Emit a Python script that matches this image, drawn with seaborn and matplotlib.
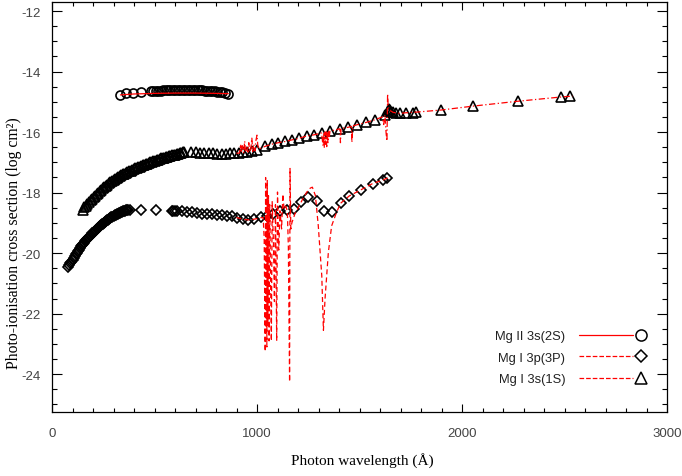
import numpy as np
import matplotlib
matplotlib.use("Agg")
import matplotlib.pyplot as plt
import seaborn as sns
from matplotlib.lines import Line2D
from matplotlib.legend_handler import HandlerBase
from matplotlib.ticker import MultipleLocator

# ---------------- data ----------------
# Mg II 3s(2S): circles + solid red line
mg2_mark_x = [334, 363, 395, 432, 482, 494, 506, 518, 530, 542, 554, 566, 578, 590,
              602, 614, 626, 638, 650, 662, 674, 686, 698, 710, 722, 734, 746, 758,
              770, 782, 794, 806, 818, 830, 845, 860]
mg2_mark_y = [-14.77, -14.72, -14.70, -14.66, -14.65, -14.64, -14.64, -14.63, -14.63,
              -14.62, -14.62, -14.62, -14.61, -14.61, -14.61, -14.61, -14.61, -14.61,
              -14.61, -14.61, -14.61, -14.62, -14.62, -14.62, -14.62, -14.62, -14.63,
              -14.63, -14.64, -14.64, -14.65, -14.66, -14.67, -14.68, -14.70, -14.73]
mg2_line_x = [334, 400, 500, 600, 700, 800, 860]
mg2_line_y = [-14.77, -14.74, -14.72, -14.71, -14.71, -14.72, -14.73]

# upper series: triangles + dash-dot red line
up_mark_x = [150, 158, 165, 173, 180, 188, 195, 203, 210, 218,
             225, 233, 240, 248, 255, 263, 270, 278, 285, 293,
             300, 308, 315, 323, 330, 338, 345, 353, 360, 368,
             375, 383, 390, 398, 405, 413, 420, 428, 435, 443,
             450, 458, 465, 473, 480, 488, 495, 503, 510, 518,
             525, 533, 540, 548, 555, 563, 570, 578, 585, 593,
             600, 608, 615, 623, 630, 638, 645,
             680, 701, 722, 743, 764, 785, 806, 827, 848, 869, 890, 911, 932, 953, 975,
             1000, 1039, 1072, 1104, 1137, 1169, 1207, 1242, 1278, 1315, 1356, 1405,
             1445, 1486, 1532, 1576, 1624, 1638, 1645, 1650, 1655, 1665, 1680, 1698,
             1727, 1763, 1776, 1898, 2055, 2272, 2482, 2527]
up_mark_y = [-18.56, -18.49, -18.43, -18.37, -18.32, -18.26, -18.20, -18.15, -18.10, -18.05,
             -18.00, -17.95, -17.91, -17.86, -17.82, -17.78, -17.74, -17.69, -17.65, -17.61,
             -17.58, -17.55, -17.52, -17.49, -17.46, -17.43, -17.40, -17.37, -17.34, -17.31,
             -17.29, -17.27, -17.25, -17.22, -17.20, -17.18, -17.16, -17.14, -17.12, -17.10,
             -17.08, -17.06, -17.04, -17.02, -17.00, -16.98, -16.97, -16.95, -16.93, -16.91,
             -16.89, -16.87, -16.86, -16.84, -16.83, -16.81, -16.80, -16.78, -16.77, -16.75,
             -16.74, -16.72, -16.71, -16.70, -16.69, -16.67, -16.66,
             -16.66, -16.67, -16.68, -16.69, -16.70, -16.70, -16.71, -16.71, -16.71,
             -16.70, -16.70, -16.69, -16.67, -16.65, -16.63,
             -16.58, -16.47, -16.40, -16.35, -16.31, -16.26, -16.20, -16.13, -16.09,
             -16.03, -15.97, -15.89, -15.84, -15.76, -15.68, -15.59, -15.44, -15.30,
             -15.24, -15.28, -15.32, -15.35, -15.37, -15.38, -15.36, -15.36, -15.34,
             -15.27, -15.14, -14.98, -14.84, -14.82]
up_line_x = [900, 915, 920, 924, 928, 935, 940, 944, 950, 956, 960, 964, 970, 975, 979,
             984, 990, 994, 1000, 1004, 1010, 1040, 1072, 1104, 1137, 1169, 1207, 1242,
             1278, 1315, 1322, 1325, 1328, 1331, 1334, 1337, 1340, 1343, 1346, 1349,
             1352, 1356, 1380, 1404, 1407, 1410, 1445, 1460, 1463, 1466, 1486, 1532,
             1576, 1610, 1618, 1624, 1630, 1634, 1637, 1640, 1645, 1652, 1665, 1698,
             1727, 1776, 1898, 2055, 2272, 2482, 2540]
up_line_y = [-16.70, -16.69, -16.40, -16.68, -16.45, -16.68, -16.30, -16.67, -16.50,
             -16.66, -16.35, -16.65, -16.55, -16.20, -16.64, -16.40, -16.62, -16.30,
             -16.10, -16.45, -16.56, -16.47, -16.40, -16.35, -16.31, -16.26, -16.20,
             -16.13, -16.09, -16.03, -16.45, -16.02, -16.50, -16.00, -16.40, -15.99,
             -16.48, -15.98, -16.35, -15.98, -16.20, -15.97, -15.93, -15.89, -16.35,
             -15.88, -15.84, -15.81, -16.34, -15.80, -15.76, -15.68, -15.59, -15.50,
             -15.75, -15.44, -16.05, -16.29, -14.74, -15.20, -15.24, -15.30, -15.35,
             -15.38, -15.36, -15.34, -15.27, -15.14, -14.98, -14.84, -14.81]

# lower series: diamonds + dashed red line
lo_mark_x = [80, 85, 90, 95, 100, 105, 110, 115, 120, 125,
             130, 135, 140, 145, 150, 155, 160, 165, 170, 175,
             180, 185, 190, 195, 200, 205, 210, 215, 220, 225,
             230, 235, 240, 245, 250, 255, 260, 265, 270, 275,
             280, 285, 290, 295, 300, 305, 310, 315, 320, 325,
             330, 335, 340, 345, 350, 355, 360, 365, 370,
             380, 432, 506, 586, 592, 598, 608, 633, 657, 681, 706, 730, 755, 779, 803,
             828, 852, 877, 901, 930, 958, 985, 1018, 1048, 1080, 1112, 1148, 1180,
             1215, 1250, 1291, 1328, 1367, 1408, 1450, 1506, 1564, 1616, 1633]
lo_mark_y = [-20.47, -20.40, -20.34, -20.28, -20.22, -20.16, -20.10, -20.04, -19.98, -19.93,
             -19.88, -19.83, -19.78, -19.73, -19.69, -19.65, -19.61, -19.57, -19.53, -19.49,
             -19.46, -19.42, -19.39, -19.35, -19.32, -19.29, -19.26, -19.23, -19.20, -19.17,
             -19.14, -19.11, -19.08, -19.05, -19.03, -19.00, -18.97, -18.94, -18.92, -18.89,
             -18.87, -18.84, -18.82, -18.79, -18.77, -18.75, -18.73, -18.71, -18.69, -18.67,
             -18.66, -18.64, -18.63, -18.62, -18.61, -18.60, -18.59, -18.58, -18.58,
             -18.58, -18.58, -18.56, -18.60, -18.60, -18.60,
             -18.61, -18.62, -18.63, -18.65, -18.67, -18.69, -18.70, -18.72, -18.73,
             -18.75, -18.76, -18.78, -18.83, -18.88, -18.89, -18.87, -18.82, -18.77,
             -18.71, -18.62, -18.57, -18.55, -18.30, -18.16, -18.27, -18.60, -18.65,
             -18.35, -18.11, -17.91, -17.70, -17.58, -17.52]
lo_line_x = [900, 930, 958, 985, 1018, 1030, 1035, 1038, 1040, 1042, 1044, 1046, 1048,
             1050, 1053, 1056, 1059, 1062, 1066, 1070, 1074, 1080, 1085, 1090, 1096,
             1100, 1106, 1112, 1120, 1126, 1132, 1140, 1148, 1153, 1156, 1159, 1161,
             1165, 1170, 1185, 1201, 1220, 1242, 1260, 1270, 1285, 1299, 1316, 1324,
             1332, 1348, 1364, 1388, 1408, 1450, 1506, 1564, 1616, 1640]
lo_line_y = [-18.82, -18.88, -18.90, -18.88, -18.83, -18.82, -19.50, -21.80, -23.25,
             -17.50, -22.60, -17.90, -23.10, -17.60, -22.40, -18.10, -22.90, -18.40,
             -20.80, -22.90, -18.30, -19.60, -21.60, -18.40, -22.90, -17.98, -19.90,
             -18.60, -19.20, -18.05, -18.55, -18.45, -18.60, -19.80, -22.10, -24.25,
             -17.20, -19.20, -19.00, -18.70, -18.50, -18.25, -17.99, -17.85, -17.82,
             -18.10, -19.10, -20.75, -22.55, -21.50, -19.98, -19.10, -18.65, -18.35,
             -18.11, -17.91, -17.70, -17.58, -17.50]

legend_labels = ["Mg II 3s(2S)", "Mg I 3p(3P)", "Mg I 3s(1S)"]

# ---------------- style ----------------
sns.set_style("ticks")
plt.rcParams['font.family'] = ['Liberation Sans', 'DejaVu Sans']
plt.rcParams['axes.unicode_minus'] = False

fig = plt.figure(figsize=(6.82, 4.77), dpi=100)
ax = fig.add_axes([52 / 682, 64 / 477, 615 / 682, 410 / 477])

mk_kw = dict(linestyle='none', markerfacecolor='none', markeredgecolor='black',
             markeredgewidth=1.2, color='black', estimator=None, sort=False)
sns.lineplot(x=mg2_mark_x, y=mg2_mark_y, marker='o', markersize=6.5, ax=ax, **mk_kw)
sns.lineplot(x=up_mark_x, y=up_mark_y, marker='^', markersize=7, ax=ax, **mk_kw)
sns.lineplot(x=lo_mark_x, y=lo_mark_y, marker='D', markersize=5.3, ax=ax, **mk_kw)

ln_kw = dict(color='red', linewidth=0.9, estimator=None, sort=False)
sns.lineplot(x=mg2_line_x, y=mg2_line_y, linestyle='-', ax=ax, **ln_kw)
sns.lineplot(x=up_line_x, y=up_line_y, linestyle=(0, (5, 2, 1, 2)), ax=ax, **ln_kw)
sns.lineplot(x=lo_line_x, y=lo_line_y, linestyle=(0, (4, 2.5)), ax=ax, **ln_kw)

ax.set_xlim(0, 3000)
ax.set_ylim(-25.25, -11.7)
ax.xaxis.set_major_locator(MultipleLocator(1000))
ax.xaxis.set_minor_locator(MultipleLocator(100))
ax.yaxis.set_major_locator(MultipleLocator(2))
ax.yaxis.set_minor_locator(MultipleLocator(0.5))
ax.tick_params(axis='both', which='both', direction='in', top=True, right=True,
               colors='black', labelcolor='#444444', labelsize=9.5, width=0.8)
ax.tick_params(axis='x', which='major', length=6, pad=11)
ax.tick_params(axis='x', which='minor', length=3)
ax.tick_params(axis='y', which='major', length=7, pad=8)
ax.tick_params(axis='y', which='minor', length=3.5)
for s in ax.spines.values():
    s.set_color('black')
    s.set_linewidth(0.9)

ax.set_xlabel("Photon wavelength (Å)", family=['Liberation Serif', 'DejaVu Serif'],
              fontsize=11, color='black')
ax.set_ylabel("Photo-ionisation cross section (log cm²)",
              family=['Liberation Serif', 'DejaVu Serif'], fontsize=11.3, color='black')
ax.xaxis.set_label_coords(0.504, -0.098)
ax.yaxis.set_label_coords(-0.049, 0.415)


class LineThenMarker(HandlerBase):
    def create_artists(self, legend, orig_handle, xdescent, ydescent, width, height,
                       fontsize, trans):
        y = height / 2 - ydescent
        x0 = -xdescent
        line = Line2D([x0, x0 + width * 0.87], [y, y], color=orig_handle.get_color(),
                      linestyle=orig_handle.get_linestyle(),
                      linewidth=orig_handle.get_linewidth())
        mk = Line2D([x0 + width], [y], marker=orig_handle.get_marker(),
                    markersize=orig_handle.get_markersize(), markerfacecolor='none',
                    markeredgecolor='black', markeredgewidth=1.1, linestyle='none')
        line.set_transform(trans)
        mk.set_transform(trans)
        return [line, mk]


handles = [
    Line2D([], [], color='red', linestyle='-', linewidth=0.9, marker='o', markersize=8),
    Line2D([], [], color='red', linestyle=(0, (5, 2, 1, 2)), linewidth=0.9, marker='D',
           markersize=6),
    Line2D([], [], color='red', linestyle=(0, (4, 2.5)), linewidth=0.9, marker='^',
           markersize=8),
]
leg = ax.legend(handles, legend_labels, handler_map={Line2D: LineThenMarker()},
                loc='lower right', bbox_to_anchor=(0.969, 0.05), frameon=False,
                markerfirst=False, fontsize=9.3, handlelength=4.8, handletextpad=1.1,
                labelspacing=0.72, borderpad=0)
for t in leg.get_texts():
    t.set_color('#222222')

fig.savefig("out.png", dpi=100)
